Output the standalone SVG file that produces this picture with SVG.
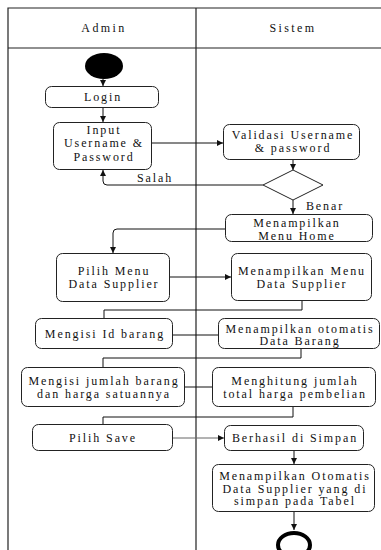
<svg xmlns="http://www.w3.org/2000/svg" width="381" height="550" viewBox="0 0 381 550">
  <style>
    .lane { fill: none; stroke: #222; stroke-width: 1.2; }
    .box { fill: #fff; stroke: #222; stroke-width: 1; }
    .lbl { font-family: "Liberation Serif", "Times New Roman", serif; font-size: 12px; letter-spacing: 1.9px; fill: #111; text-anchor: middle; }
    .hdr { font-family: "Liberation Serif", "Times New Roman", serif; font-size: 12px; letter-spacing: 2.4px; fill: #111; text-anchor: middle; }
    .edge { fill: none; stroke: #111; stroke-width: 1; }
    .arrow { marker-end: url(#head); }
    .grey { stroke: #666; }
  </style>
  <defs>
    <marker id="head" markerUnits="userSpaceOnUse" markerWidth="7" markerHeight="6" refX="6" refY="3" orient="auto">
      <path d="M0,0 L6,3 L0,6 Z" fill="#111"/>
    </marker>
  </defs>

  <rect width="381" height="550" fill="#fff"/>

  <!-- swimlane frame -->
  <g id="lanes">
    <path class="lane" d="M381,8 H8 V550 M8,48 H381 M196,8 V550"/>
    <text class="hdr" x="104" y="32">Admin</text>
    <text class="hdr" x="293" y="32">Sistem</text>
  </g>

  <!-- connectors -->
  <g id="connectors">
    <path class="edge arrow" d="M103,79 V86"/>
    <path class="edge arrow" d="M103,108 V122"/>
    <path class="edge arrow" d="M152,143 H223"/>
    <path class="edge arrow" d="M293,160 V170"/>
    <path class="edge arrow" d="M263,185 H107 Q103,185 103,181 V170"/>
    <path class="edge arrow" d="M293,200 V214"/>
    <path class="edge arrow" d="M225,229 H117 Q113,229 113,233 V253"/>
    <path class="edge arrow" d="M170,277 H231"/>
    <path class="edge" d="M302,301 V310 H104 V318"/>
    <path class="edge" d="M173,335 H218"/>
    <path class="edge" d="M301,349 V358 H103 V367"/>
    <path class="edge" d="M185,387 H212"/>
    <path class="edge" d="M293,407 V417 H103 V424"/>
    <path class="edge grey arrow" d="M173,438 H224"/>
    <path class="edge arrow" d="M294,451 V464"/>
    <path class="edge arrow" d="M294,512 V530"/>
    <text class="lbl" x="155" y="182">Salah</text>
    <text class="lbl" x="325" y="210">Benar</text>
  </g>

  <g id="start">
    <ellipse cx="104" cy="66" rx="19" ry="13" fill="#000"/>
  </g>

  <g id="login">
    <rect class="box" x="45.5" y="86.5" width="113" height="21" rx="6"/>
    <text class="lbl" x="103" y="101">Login</text>
  </g>

  <g id="input-credentials">
    <rect class="box" x="53.5" y="122.5" width="98" height="47" rx="6"/>
    <text class="lbl" x="104" y="134">Input</text>
    <text class="lbl" x="104" y="147">Username &amp;</text>
    <text class="lbl" x="104" y="161">Password</text>
  </g>

  <g id="validate">
    <rect class="box" x="223.5" y="124.5" width="136" height="35" rx="6"/>
    <text class="lbl" x="293" y="139">Validasi Username</text>
    <text class="lbl" x="293" y="152">&amp; password</text>
  </g>

  <g id="decision">
    <path class="box" d="M293,170 L323,185 L293,200 L263,185 Z"/>
  </g>

  <g id="show-home">
    <rect class="box" x="225.5" y="214.5" width="147" height="27" rx="6"/>
    <text class="lbl" x="297" y="227">Menampilkan</text>
    <text class="lbl" x="297" y="240">Menu Home</text>
  </g>

  <g id="choose-supplier-menu">
    <rect class="box" x="56.5" y="253.5" width="113" height="48" rx="6"/>
    <text class="lbl" x="114" y="275">Pilih Menu</text>
    <text class="lbl" x="114" y="288">Data Supplier</text>
  </g>

  <g id="show-supplier-menu">
    <rect class="box" x="231.5" y="253.5" width="140" height="47" rx="6"/>
    <text class="lbl" x="302" y="275">Menampilkan Menu</text>
    <text class="lbl" x="302" y="288">Data Supplier</text>
  </g>

  <g id="enter-item-id">
    <rect class="box" x="35.5" y="318.5" width="137" height="30" rx="6"/>
    <text class="lbl" x="105" y="338">Mengisi Id barang</text>
  </g>

  <g id="show-item-data">
    <rect class="box" x="218.5" y="318.5" width="161" height="30" rx="6"/>
    <text class="lbl" x="300" y="333">Menampilkan otomatis</text>
    <text class="lbl" x="300" y="345">Data Barang</text>
  </g>

  <g id="enter-quantity">
    <rect class="box" x="21.5" y="367.5" width="163" height="39" rx="6"/>
    <text class="lbl" x="104" y="385">Mengisi jumlah barang</text>
    <text class="lbl" x="104" y="398">dan harga satuannya</text>
  </g>

  <g id="compute-total">
    <rect class="box" x="212.5" y="367.5" width="163" height="39" rx="6"/>
    <text class="lbl" x="295" y="385">Menghitung jumlah</text>
    <text class="lbl" x="295" y="398">total harga pembelian</text>
  </g>

  <g id="choose-save">
    <rect class="box" x="32.5" y="424.5" width="140" height="26" rx="6"/>
    <text class="lbl" x="103" y="442">Pilih Save</text>
  </g>

  <g id="saved">
    <rect class="box" x="224.5" y="425.5" width="139" height="25" rx="6"/>
    <text class="lbl" x="295" y="442">Berhasil di Simpan</text>
  </g>

  <g id="show-table">
    <rect class="box" x="212.5" y="464.5" width="162" height="47" rx="6"/>
    <text class="lbl" x="295" y="480">Menampilkan Otomatis</text>
    <text class="lbl" x="295" y="493">Data Supplier yang di</text>
    <text class="lbl" x="295" y="505">simpan pada Tabel</text>
  </g>

  <g id="end">
    <ellipse cx="294" cy="545" rx="16" ry="12" fill="none" stroke="#000" stroke-width="4"/>
  </g>
</svg>
